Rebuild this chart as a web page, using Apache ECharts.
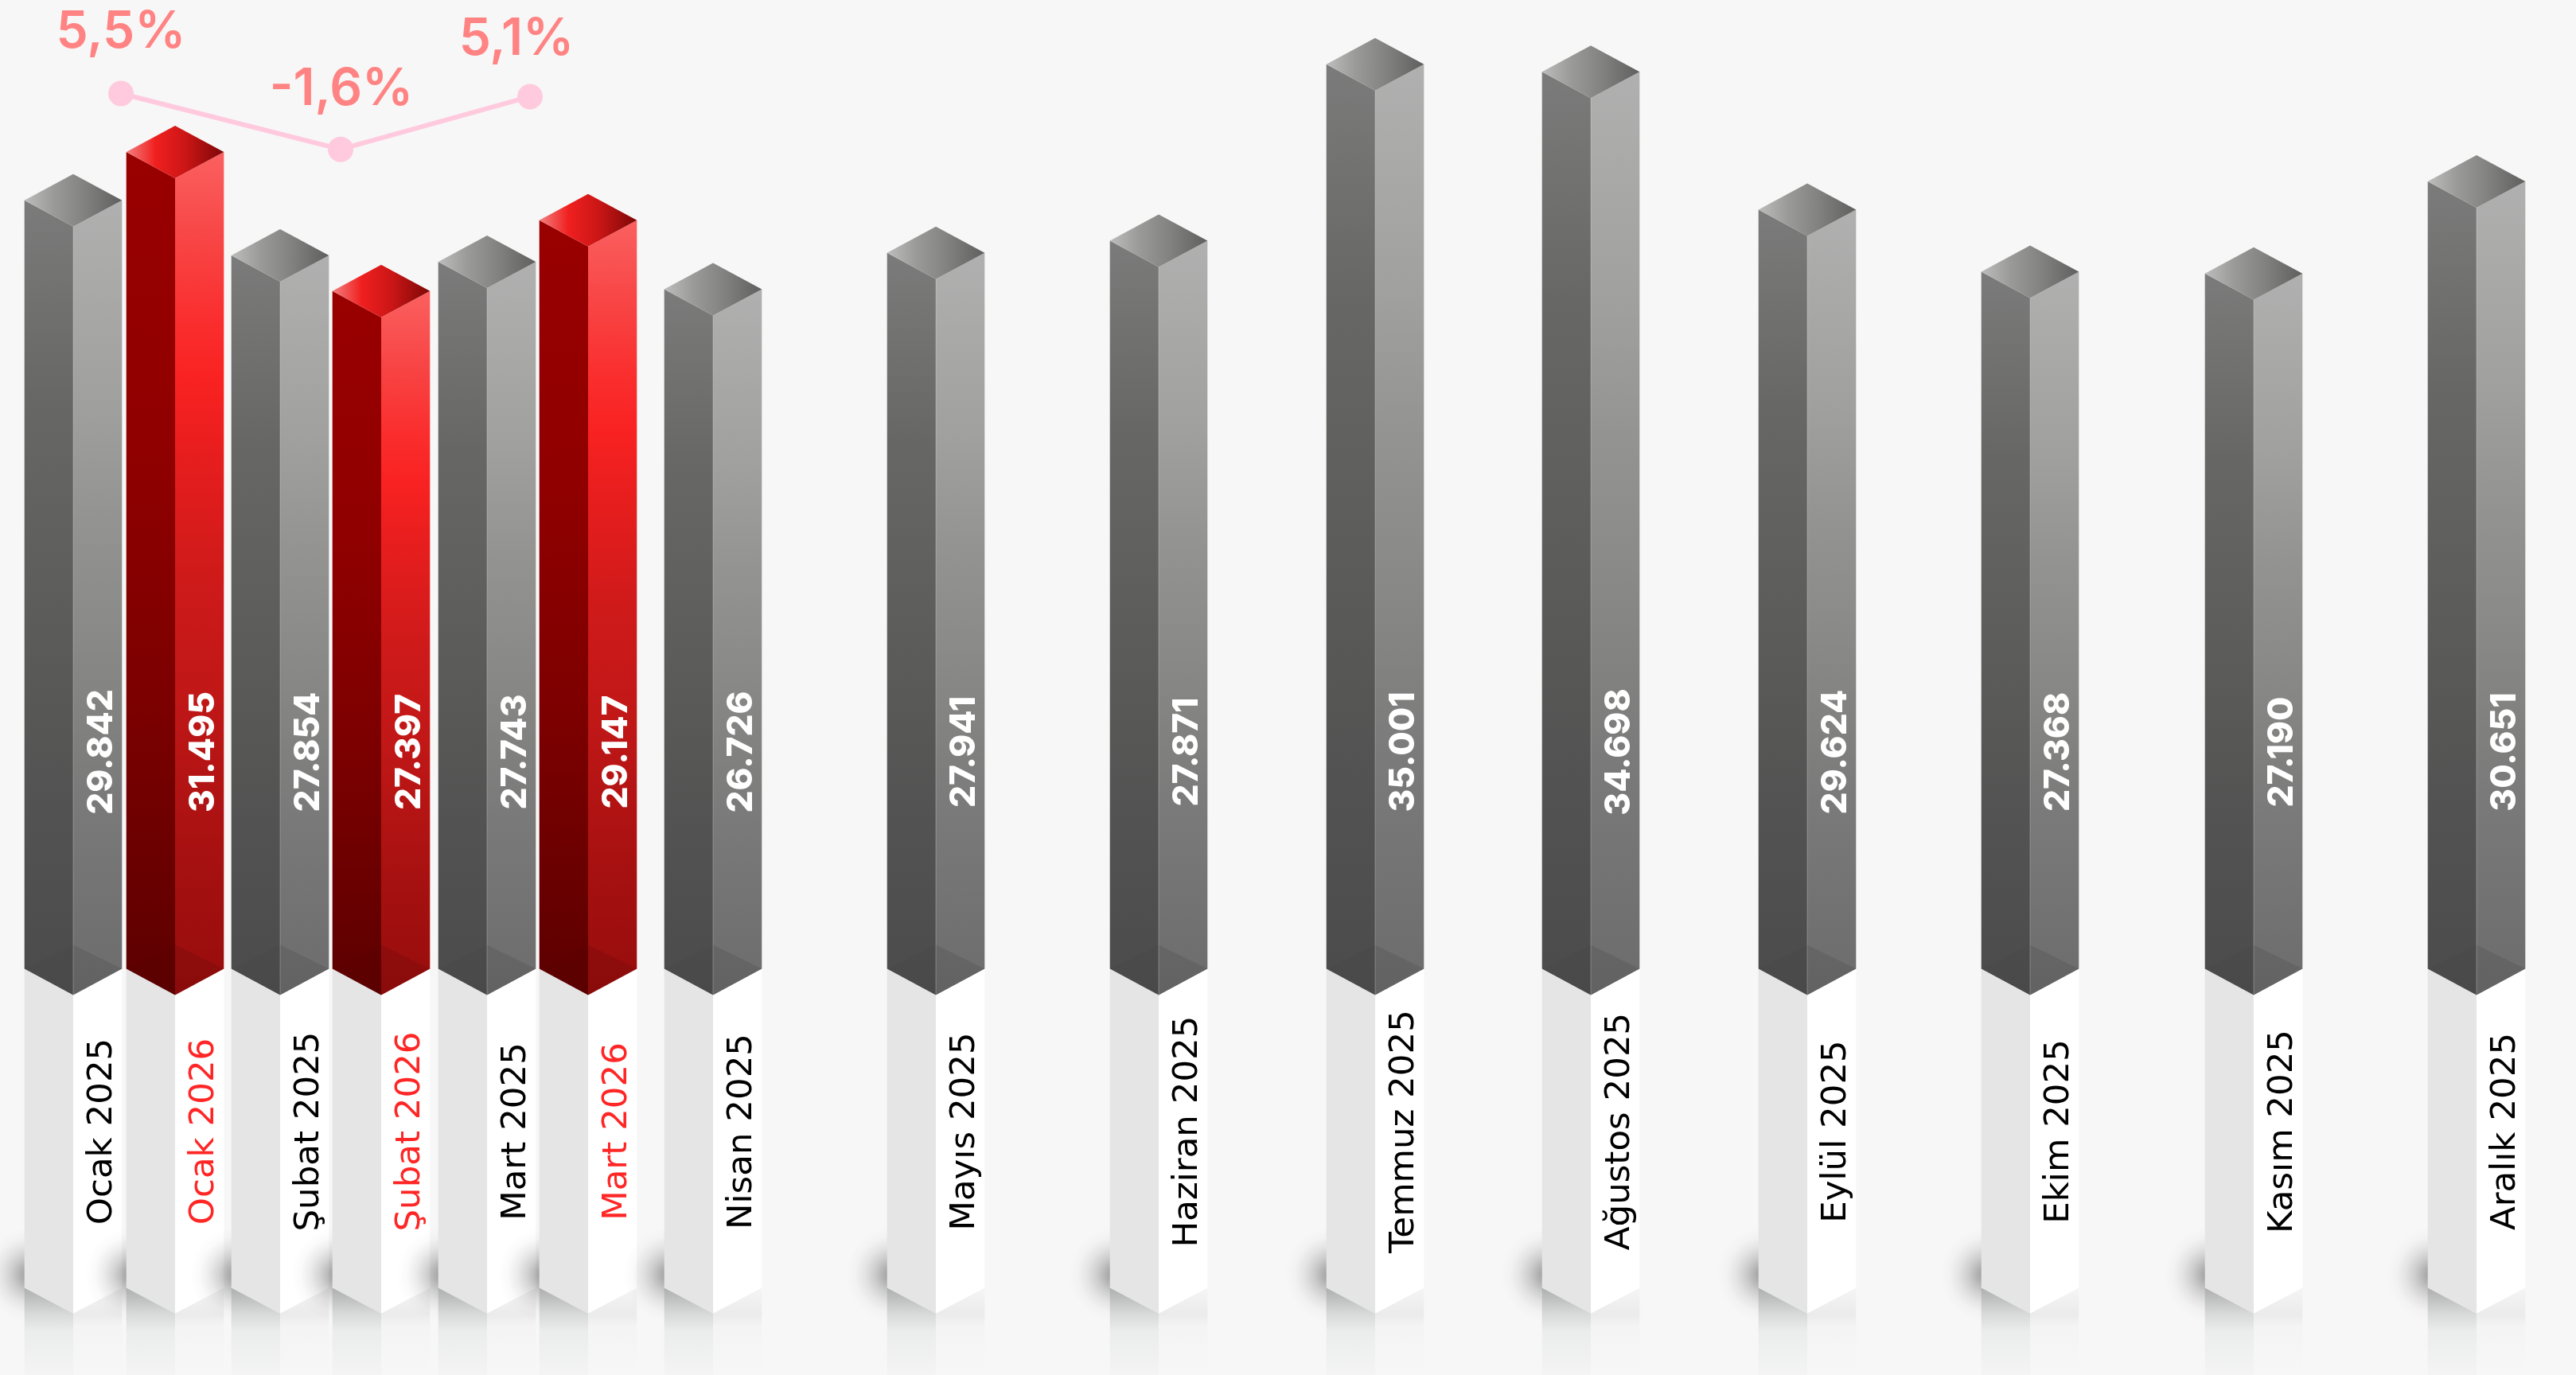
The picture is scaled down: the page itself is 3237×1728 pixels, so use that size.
<!DOCTYPE html>
<html>
<head>
<meta charset="utf-8">
<style>html,body{margin:0;padding:0;background:#f7f7f7}#c{width:3237px;height:1728px}</style>
<script src="https://cdn.jsdelivr.net/npm/echarts@6/dist/echarts.min.js"></script>
</head>
<body>
<div id="c"></div>
<script>
// Categories, in the order the picture shows them
const categories = ['Ocak 2025','Ocak 2026','Şubat 2025','Şubat 2026','Mart 2025','Mart 2026','Nisan 2025','Mayıs 2025','Haziran 2025','Temmuz 2025','Ağustos 2025','Eylül 2025','Ekim 2025','Kasım 2025','Aralık 2025'];
// Values printed on the bars
const printedValues = [29842,31495,27854,27397,27743,29147,26726,27941,27871,35001,34698,29624,27368,27190,30651];
// The source's bars do not follow its printed values exactly (Şubat 2026 and Haziran 2025 most of all).
const drawnLevels = [29942,31738,27892,26569,27655,29202,26640,27989,28445,35001,34717,29599,27291,27220,30643];
// Position of each bar along the horizontal axis (bars are grouped unevenly)
const slotCentres = [92,220,352,479,612,739,896,1176,1456,1728,1999,2271,2551,2832,3112];
// Year-on-year change line
const growthValues = [5.5,-1.6,5.1];
const growthLabels = ['5,5%','-1,6%','5,1%'];
const growthSlots = [152,428,666];
const growthLabelOffsets = [[0,-77],[1,-75],[-17,-72]];

const HW = 61.3, TOP_H = 33, BASE_UP = 46.5, PILLAR = 401, VALUE_Y = 945, CAT_Y = 1422, CHART_BOTTOM = 1728;
const G = echarts.graphic;
const lin = (x2,y2,stops)=>new G.LinearGradient(0,0,x2,y2,stops.map(s=>({offset:s[0],color:s[1]})));
const rad = (stops)=>new G.RadialGradient(0.5,0.5,0.5,stops.map(s=>({offset:s[0],color:s[1]})));
const fmt = v=>String(v).replace(/\B(?=(\d{3})+$)/g,'.');

const GRAY = {
  left:[[0,'#7b7b7b'],[0.25,'#676765'],[0.5,'#5d5d5b'],[0.75,'#535353'],[1,'#4b4b4b']],
  right:[[0,'#b0b0b0'],[0.25,'#a0a09e'],[0.4,'#939391'],[0.55,'#898987'],[0.75,'#7a7a7a'],[1,'#6c6c6c']],
  top:[[0,'#bdbdbd'],[0.3,'#9a9a98'],[0.6,'#838381'],[1,'#5f5f5f']]
};
const RED = {
  left:[[0,'#990000'],[0.35,'#900000'],[0.65,'#7c0000'],[1,'#5c0000']],
  right:[[0,'#fb6060'],[0.1,'#f84646'],[0.2,'#fa2e2e'],[0.27,'#f92222'],[0.35,'#e91e1e'],[0.5,'#cf1a1a'],[0.65,'#c01717'],[0.85,'#a51010'],[1,'#980d0d']],
  top:[[0,'#f48080'],[0.3,'#f01f1f'],[0.6,'#cc1616'],[1,'#7d0707']]
};

function renderBar(params, api){
  const i = api.value(2);
  const top = api.coord([api.value(0), api.value(1)]);
  const zero = api.coord([api.value(0), 0]);
  const xm = top[0], x0 = xm-HW, x1 = xm+HW, yc = top[1], yb = zero[1]-BASE_UP;
  const name = categories[i];
  const pal = name.endsWith('2026') ? RED : GRAY;
  const isRed = pal === RED;
  const yp = yb+PILLAR;
  const textX = xm+HW/2+5;
  const poly = (points, fill)=>({type:'polygon',silent:true,shape:{points},style:{fill}});
  const children = [
    // soft floor shadow, falls on the previous pillar too
    {type:'circle',silent:true,shape:{cx:x0+8,cy:1602,r:60},style:{fill:rad([[0,'rgba(0,0,0,0.36)'],[0.15,'rgba(0,0,0,0.32)'],[0.4,'rgba(0,0,0,0.17)'],[0.6,'rgba(0,0,0,0.08)'],[0.8,'rgba(0,0,0,0.02)'],[1,'rgba(0,0,0,0)']])}},
    // reflection below the pillar
    poly([[x0,yp],[xm,yp+32],[xm,CHART_BOTTOM],[x0,CHART_BOTTOM]], lin(0,1,[[0,'#adafaf'],[0.3,'#d8d9d9'],[0.5,'#ebecec'],[1,'#f4f4f4']])),
    poly([[xm,yp+32],[x1,yp],[x1,CHART_BOTTOM],[xm,CHART_BOTTOM]], lin(0,1,[[0,'#f5f5f5'],[0.3,'#ebebeb'],[0.45,'#f4f4f4'],[1,'#f7f7f7']])),
    // white pillar
    poly([[x0,yb],[xm,yb+TOP_H],[xm,yp+32],[x0,yp]], '#e5e5e5'),
    poly([[xm,yb+TOP_H],[x1,yb],[x1,yp],[xm,yp+32]], '#ffffff'),
    // coloured column
    poly([[x0,yc],[xm,yc+TOP_H],[xm,yb+TOP_H],[x0,yb]], lin(0,1,pal.left)),
    poly([[xm,yc+TOP_H],[x1,yc],[x1,yb],[xm,yb+TOP_H]], lin(0,1,pal.right)),
    poly([[xm,yb-30],[x1,yb],[xm,yb+TOP_H]], 'rgba(0,0,0,0.09)'),
    poly([[xm,yb-30],[x0,yb],[xm,yb+TOP_H]], 'rgba(0,0,0,0.02)')
  ];
  if(!isRed){
    children.push({type:'line',silent:true,shape:{x1:xm,y1:yc+TOP_H,x2:xm,y2:yb+TOP_H},style:{stroke:'rgba(255,255,255,0.13)',lineWidth:2}});
  }
  children.push(
    poly([[xm,yc-TOP_H],[x1,yc],[xm,yc+TOP_H],[x0,yc]], lin(1,0,pal.top)),
    // printed value
    {type:'text',silent:true,x:textX,y:VALUE_Y,rotation:Math.PI/2,style:{text:fmt(printedValues[i]),x:0,y:0,align:'center',verticalAlign:'middle',fill:'#ffffff',font:'800 44px Inter'}},
    // category
    {type:'text',silent:true,x:textX+1,y:CAT_Y,rotation:Math.PI/2,style:{text:name,x:0,y:0,align:'center',verticalAlign:'middle',fill:isRed?'#ff2626':'#000000',font:'43.5px "DejaVu Sans"'}}
  );
  return {type:'group',children};
}

const chart = echarts.init(document.getElementById('c'),null,{renderer:'canvas',width:3237,height:1728});
chart.setOption({
  animation:false,
  backgroundColor:'#f7f7f7',
  grid:[
    {left:0,right:0,top:47,bottom:464},
    {left:0,right:0,top:102.7,height:98.8}
  ],
  xAxis:[
    {type:'value',gridIndex:0,min:0,max:3237,show:false},
    {type:'value',gridIndex:1,min:0,max:3237,show:false}
  ],
  yAxis:[
    {type:'value',gridIndex:0,min:0,max:36000,show:false},
    {type:'value',gridIndex:1,min:-3,max:7,show:false}
  ],
  series:[
    {type:'custom',xAxisIndex:0,yAxisIndex:0,clip:false,renderItem:renderBar,
     encode:{x:0,y:1},
     data:slotCentres.map((x,i)=>[x,drawnLevels[i],i])},
    {type:'line',xAxisIndex:1,yAxisIndex:1,z:5,symbol:'circle',symbolSize:32,
     lineStyle:{color:'#ffcadd',width:6},itemStyle:{color:'#ffcadd'},
     data:growthValues.map((v,i)=>({
       value:[growthSlots[i],v],
       label:{show:true,formatter:growthLabels[i],position:'inside',offset:growthLabelOffsets[i],
              align:'center',verticalAlign:'middle',color:'#ff8383',fontFamily:'Inter',fontWeight:600,fontSize:64}
     }))}
  ]
});
</script>
</body>
</html>
